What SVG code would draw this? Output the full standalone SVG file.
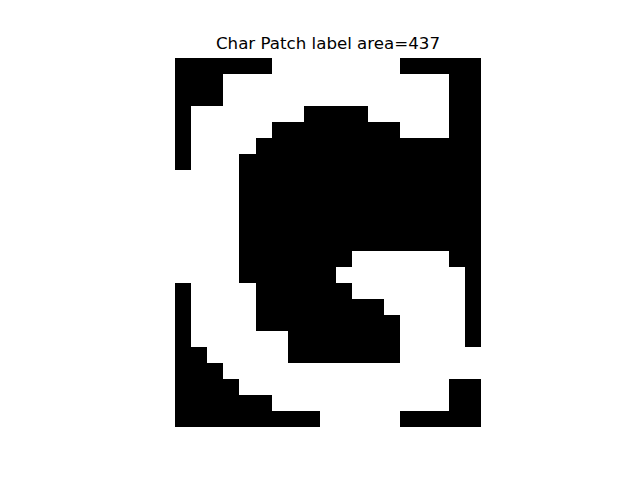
<svg xmlns="http://www.w3.org/2000/svg" width="640" height="480" viewBox="0 0 640 480">
<style>
.t{font-family:"DejaVu Sans",sans-serif;font-size:16.67px;fill:#000}
.px{fill:#000;shape-rendering:crispEdges}
</style>
<rect width="640" height="480" fill="#fff"/>
<text class="t" x="328" y="49" text-anchor="middle">Char Patch label area=437</text>
<g id="patch" transform="translate(175,58) scale(16.105,16.043)">
<rect x="0" y="0" width="19" height="23" fill="#fff" shape-rendering="crispEdges"/>
<path class="px" d="
M0 0h6v1h-6z M14 0h5v1h-5z
M0 1h3v2h-3z M17 1h2v4h-2z
M0 3h1v4h-1z M8 3h4v1h-4z
M6 4h8v1h-8z
M5 5h14v1h-14z
M4 6h15v6h-15z
M4 12h7v1h-7z M17 12h2v1h-2z
M4 13h6v1h-6z M18 13h1v5h-1z
M0 14h1v4h-1z M5 14h6v1h-6z
M5 15h8v1h-8z
M5 16h9v1h-9z
M7 17h7v2h-7z
M0 18h2v1h-2z
M0 19h3v1h-3z
M0 20h4v1h-4z M17 20h2v2h-2z
M0 21h6v1h-6z
M0 22h9v1h-9z M14 22h5v1h-5z"/>
</g>
</svg>
